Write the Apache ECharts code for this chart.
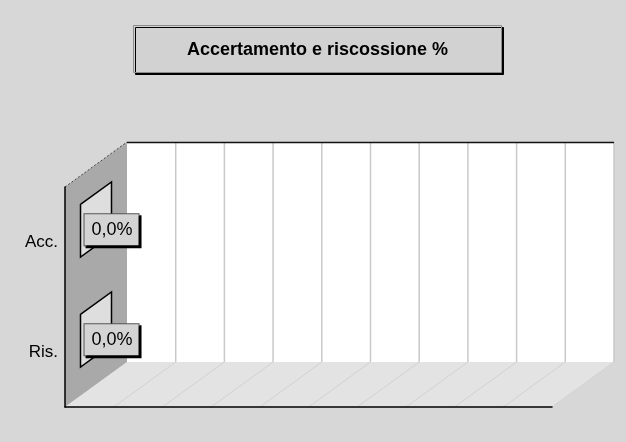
<!DOCTYPE html>
<html>
<head>
<meta charset="utf-8">
<script src="https://cdn.jsdelivr.net/npm/echarts@6/dist/echarts.min.js"></script>
<style>
  html, body { margin: 0; padding: 0; background: #d7d7d7; }
  #chart { width: 626px; height: 442px; }
</style>
</head>
<body>
<div id="chart"></div>
<script>
// Categories and values (percent)
var categories = ['Acc.', 'Ris.'];
var values = [0.0, 0.0];
var axisMin = 0, axisMax = 100, axisStep = 10;

// 3D depth of the plot box, in pixels
var DX = 62, DY = 45;
// bar occupies this depth slice of the box
var D0 = 0.25, D1 = 0.75;

function fmt(v) { return v.toFixed(1).replace('.', ',') + '%'; }

var chart = echarts.init(document.getElementById('chart'), null, { renderer: 'canvas' });

function renderWalls(params, api) {
  var cs = params.coordSys;
  var x = cs.x, y = cs.y, w = cs.width, h = cs.height;
  var children = [];
  // back wall
  children.push({ type: 'rect', shape: { x: x + DX, y: y - DY, width: w, height: h },
    style: { fill: '#ffffff' } });
  // left wall
  children.push({ type: 'polygon', shape: { points: [[x, y], [x + DX, y - DY], [x + DX, y + h - DY], [x, y + h]] },
    style: { fill: '#a9a9a9' } });
  // floor
  children.push({ type: 'polygon', shape: { points: [[x, y + h], [x + DX, y + h - DY], [x + w + DX, y + h - DY], [x + w, y + h]] },
    style: { fill: '#e3e3e3' } });
  // grid lines on back wall and floor
  for (var v = axisMin + axisStep; v <= axisMax; v += axisStep) {
    var px = api.coord([v, 0])[0];
    children.push({ type: 'line', shape: { x1: px + DX, y1: y - DY, x2: px + DX, y2: y + h - DY },
      style: { stroke: '#c9c9c9', lineWidth: 1.5 } });
    children.push({ type: 'line', shape: { x1: px + DX, y1: y + h - DY, x2: px, y2: y + h },
      style: { stroke: '#d2d2d2', lineWidth: 1 } });
  }
  // top edge of back wall
  children.push({ type: 'line', shape: { x1: x + DX, y1: y - DY + 0.5, x2: x + w + DX, y2: y - DY + 0.5 },
    style: { stroke: '#111', lineWidth: 1.5 } });
  // top edge of left wall
  children.push({ type: 'line', shape: { x1: x, y1: y, x2: x + DX, y2: y - DY },
    style: { stroke: '#444', lineWidth: 1, lineDash: [2, 2] } });
  return { type: 'group', children: children };
}

function renderBar(params, api) {
  var val = api.value(0);
  var cat = api.value(1);
  var p0 = api.coord([axisMin, cat]);
  var p1 = api.coord([val, cat]);
  var bandH = api.size([0, 1])[1];
  var barH = bandH * 0.48;
  var top = p0[1] - barH / 2, bot = p0[1] + barH / 2;
  var fx0 = p0[0] + DX * D0, fx1 = p1[0] + DX * D0;
  var bx1 = p1[0] + DX * D1;
  var fyT = top - DY * D0, fyB = bot - DY * D0;
  var byT = top - DY * D1, byB = bot - DY * D1;
  var line = { stroke: '#000', lineWidth: 1.5, fill: '#dedede' };
  var children = [];
  if (fx1 - fx0 > 0.5) {
    children.push({ type: 'polygon', shape: { points: [[fx0, fyT], [p0[0] + DX * D1, byT], [bx1, byT], [fx1, fyT]] }, style: line });
    children.push({ type: 'rect', shape: { x: fx0, y: fyT, width: fx1 - fx0, height: fyB - fyT }, style: line });
  }
  // end face
  children.push({ type: 'polygon', shape: { points: [[fx1, fyT], [bx1, byT], [bx1, byB], [fx1, fyB]] }, style: line });
  // value label
  children.push({ type: 'text', x: fx1 + 4, y: (fyT + fyB) / 2 - 1, style: {
    text: fmt(val), fill: '#000', font: '18px "Liberation Sans", Arial, sans-serif',
    align: 'left', verticalAlign: 'middle',
    backgroundColor: '#d4d4d4', borderColor: '#555', borderWidth: 1,
    padding: [7, 6, 6, 7],
    shadowColor: '#000', shadowOffsetX: 2, shadowOffsetY: 2, shadowBlur: 0
  } });
  return { type: 'group', children: children };
}

var option = {
  backgroundColor: '#d7d7d7',
  animation: false,
  title: {
    text: 'Accertamento e riscossione %',
    left: 133, top: 25,
    padding: [16, 54, 14, 54],
    backgroundColor: '#d2d2d2',
    borderColor: '#8c8c8c', borderWidth: 1,
    shadowColor: '#000', shadowOffsetX: 2, shadowOffsetY: 2, shadowBlur: 0,
    textStyle: { fontFamily: '"Liberation Sans", Arial, sans-serif', fontSize: 18, fontWeight: 'bold', color: '#000' }
  },
  grid: { left: 65, right: 74, top: 187, bottom: 35 },
  xAxis: {
    type: 'value', min: axisMin, max: axisMax, interval: axisStep, z: 5,
    axisLine: { show: true, lineStyle: { color: '#000', width: 1.5 } },
    axisTick: { show: false }, axisLabel: { show: false }, splitLine: { show: false }
  },
  yAxis: {
    type: 'category', data: categories, inverse: true, z: 5,
    axisLine: { show: true, lineStyle: { color: '#000', width: 1.5 } },
    axisTick: { show: false },
    axisLabel: { margin: 7, color: '#000', fontSize: 17, fontFamily: '"Liberation Sans", Arial, sans-serif' },
    splitLine: { show: false }
  },
  series: [
    { type: 'custom', name: 'walls', z: -1, silent: true, renderItem: renderWalls, data: [[0, 0]], encode: { x: 0, y: 1 } },
    { type: 'custom', name: 'values', z: 10, renderItem: renderBar,
      data: values.map(function (v, i) { return [v, i]; }), encode: { x: 0, y: 1 } }
  ]
};
chart.setOption(option);
</script>
</body>
</html>
